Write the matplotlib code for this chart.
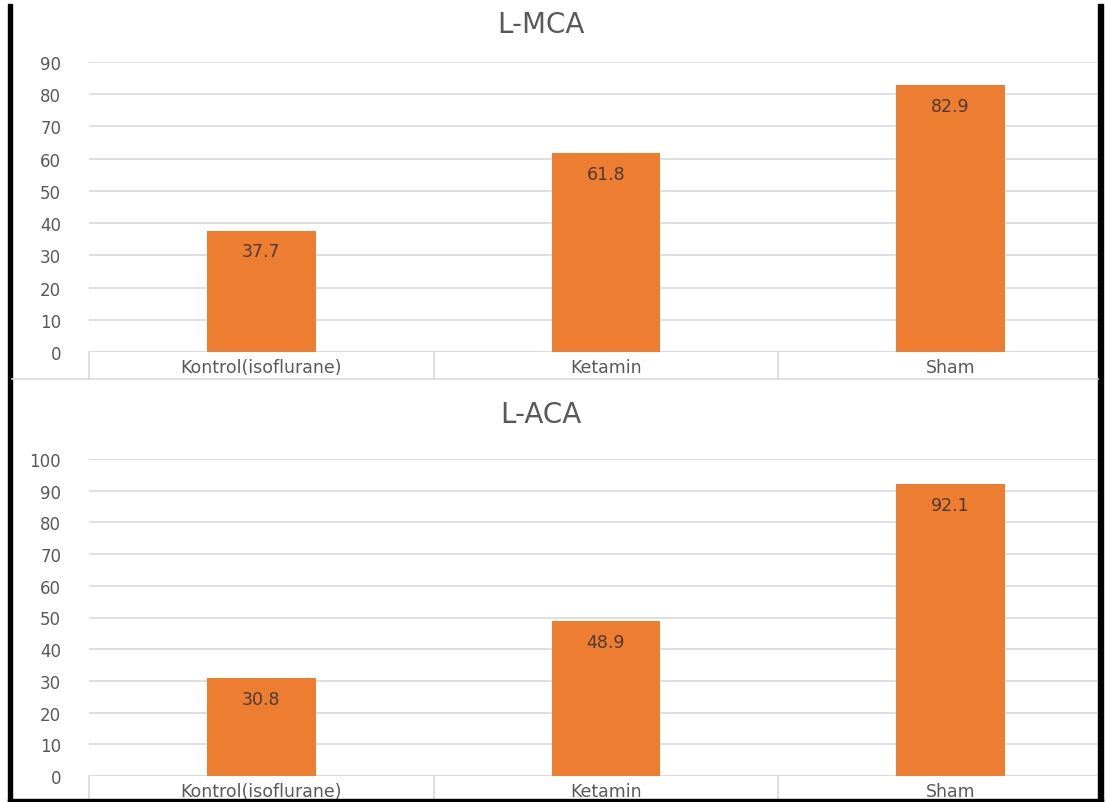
import matplotlib.pyplot as plt
from matplotlib.patches import Rectangle
from matplotlib.lines import Line2D
import matplotlib.transforms as mtransforms

plt.rcParams['font.family'] = ['DejaVu Sans']

groups = ['Kontrol(isoflurane)', 'Ketamin', 'Sham']
mca_vals = [37.7, 61.8, 82.9]
aca_vals = [30.8, 48.9, 92.1]
mca_ticks = list(range(0, 100, 10))
aca_ticks = list(range(0, 110, 10))

ORANGE = '#ED7D31'
GRAY = '#595959'
GRID = '#D9D9D9'

W, H = 1107, 803
fig = plt.figure(figsize=(W / 100, H / 100), dpi=100)


def px_box(left, top, right, bottom):
    return [left / W, 1 - bottom / H, (right - left) / W, (bottom - top) / H]


def draw_chart(rect, vals, ticks, title, title_y, box_px):
    ax = fig.add_axes(rect)
    x = list(range(len(vals)))
    ax.bar(x, vals, width=0.315, color=ORANGE, zorder=3)
    ax.set_xlim(-0.5, 2.425)
    ax.set_ylim(0, ticks[-1])
    ax.set_yticks(ticks)
    ax.yaxis.grid(True, color=GRID, linewidth=1.2, zorder=0)
    for s in ax.spines.values():
        s.set_visible(False)
    ax.axhline(0, color=GRID, linewidth=1.2, zorder=2)
    ax.tick_params(axis='y', length=0, pad=20, labelsize=12, labelcolor=GRAY)
    ax.set_xticks(x)
    ax.set_xticklabels(groups)
    ax.tick_params(axis='x', length=0, pad=4, labelsize=12.5, labelcolor=GRAY)
    # category boxes under the axis
    h_ax = rect[3] * H
    trans = mtransforms.blended_transform_factory(ax.transData, ax.transAxes)
    for b in [-0.5, 0.5, 1.5]:
        ax.add_line(Line2D([b, b], [0, -box_px / h_ax], transform=trans,
                           color=GRID, linewidth=1.2, clip_on=False))
    for xi, v in zip(x, vals):
        ax.annotate(f'{v:.1f}', (xi, v), xytext=(0, -15), textcoords='offset points',
                    ha='center', va='center', fontsize=12.5, color='#4a3a30', zorder=4)
    fig.text(541 / W, 1 - title_y / H, title, ha='center', va='center',
             fontsize=20, color=GRAY)
    return ax


draw_chart(px_box(89, 63, 1097, 353), mca_vals, mca_ticks, 'L-MCA', 25, 27)
draw_chart(px_box(89, 460, 1097, 777), aca_vals, aca_ticks, 'L-ACA', 415, 27)

# separator between the two charts
fig.add_artist(Line2D([12 / W, 1098 / W], [1 - 380 / H] * 2, color=GRID, linewidth=1.2))

# black frame
fig.add_artist(Rectangle((8 / W, 0), 4 / W, 1 - 5 / H, color='black', transform=fig.transFigure))
fig.add_artist(Rectangle((1098 / W, 0), 5 / W, 1 - 5 / H, color='black', transform=fig.transFigure))
fig.add_artist(Rectangle((8 / W, 0), 1095 / W, 3 / H, color='black', transform=fig.transFigure))

fig.savefig('out.png', dpi=100)
